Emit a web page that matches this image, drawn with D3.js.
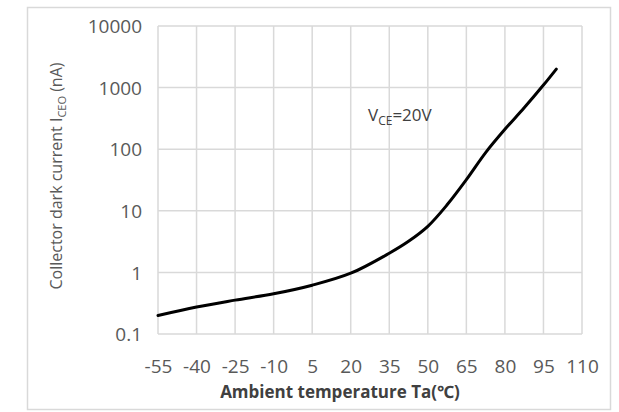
<!DOCTYPE html>
<html>
<head>
<meta charset="utf-8">
<script src="https://cdn.jsdelivr.net/npm/d3@7"></script>
<style>
  body { margin: 0; background: #fff; }
  svg { display: block; font-family: "Open Sans", "Noto Sans", sans-serif; }
</style>
</head>
<body>
<svg id="chart" width="619" height="412"></svg>
<script>
// ambient temperature (°C) and dark current (nA)
let temps = [-55, -40, -25, -10, 5, 20, 35, 42.5, 50, 57.5, 65, 72.5, 80, 87.5, 95, 100]
let darkCurrent = [0.2, 0.275, 0.355, 0.45, 0.62, 0.97, 2.05, 3.2, 5.6, 12.5, 32, 88, 210, 470, 1100, 2000]

let xTicks = [-55, -40, -25, -10, 5, 20, 35, 50, 65, 80, 95, 110]
let yTicks = [0.1, 1, 10, 100, 1000, 10000]

let margin = { left: 158, top: 26, right: 37, bottom: 78 }
let width = 619, height = 412

let svg = d3.select("#chart")

// outer frame
svg.append("rect")
    .attr("x", 27.5).attr("y", 7.5)
    .attr("width", 583).attr("height", 402)
    .attr("fill", "none")
    .attr("stroke", "#d9d9d9")
    .attr("stroke-width", 1.5)

let xScale = d3.scaleLinear()
    .domain([-55, 110])
    .range([margin.left, width - margin.right])

let yScale = d3.scaleLog()
    .domain([0.1, 10000])
    .range([height - margin.bottom, margin.top])

// grid
let grid = svg.append("g").attr("stroke", "#d9d9d9").attr("stroke-width", 1.5)
xTicks.forEach(t => {
    grid.append("line")
        .attr("x1", xScale(t)).attr("x2", xScale(t))
        .attr("y1", yScale(0.1)).attr("y2", yScale(10000))
})
yTicks.forEach(t => {
    grid.append("line")
        .attr("x1", xScale(-55)).attr("x2", xScale(110))
        .attr("y1", yScale(t)).attr("y2", yScale(t))
})

// axes (labels only)
let xAxis = svg.append("g")
    .attr("transform", "translate(0," + (height - margin.bottom) + ")")
    .call(d3.axisBottom(xScale).tickValues(xTicks).tickSize(0).tickPadding(26).tickFormat(d => String(d)))
let yAxis = svg.append("g")
    .attr("transform", "translate(" + margin.left + ",0)")
    .call(d3.axisLeft(yScale).tickValues(yTicks).tickSize(0).tickPadding(16)
        .tickFormat(d => d < 1 ? "0.1" : String(d)))

;[xAxis, yAxis].forEach(a => {
    a.select(".domain").remove()
    a.selectAll("text")
        .attr("fill", "#595959")
        .style("font-size", "19px")
        .style("font-family", "'Open Sans', sans-serif")
})
yAxis.selectAll("text").attr("dy", "0.35em")

// curve
let line = d3.line()
    .x((d, i) => xScale(temps[i]))
    .y(d => yScale(d))
    .curve(d3.curveCatmullRom.alpha(0.5))

svg.append("path")
    .attr("d", line(darkCurrent))
    .attr("fill", "none")
    .attr("stroke", "#000")
    .attr("stroke-width", 3)
    .attr("stroke-linecap", "round")

// annotation
let note = svg.append("text")
    .attr("x", 368).attr("y", 121)
    .attr("fill", "#404040")
    .style("font-size", "17px")
note.append("tspan").text("V")
note.append("tspan").attr("dy", 4).style("font-size", "12px").text("CE")
note.append("tspan").attr("dy", -4).text("=20V")

// axis titles
svg.append("text")
    .attr("x", 340).attr("y", 398)
    .attr("text-anchor", "middle")
    .attr("fill", "#404040")
    .style("font-size", "17px")
    .style("font-weight", "bold")
    .text("Ambient temperature Ta(℃)")

let yTitle = svg.append("text")
    .attr("transform", "translate(62,176) rotate(-90)")
    .attr("text-anchor", "middle")
    .attr("fill", "#595959")
    .style("font-size", "16px")
yTitle.append("tspan").text("Collector dark current I")
yTitle.append("tspan").attr("dy", 4).style("font-size", "11px").text("CEO")
yTitle.append("tspan").attr("dy", -4).text(" (nA)")
</script>
</body>
</html>
